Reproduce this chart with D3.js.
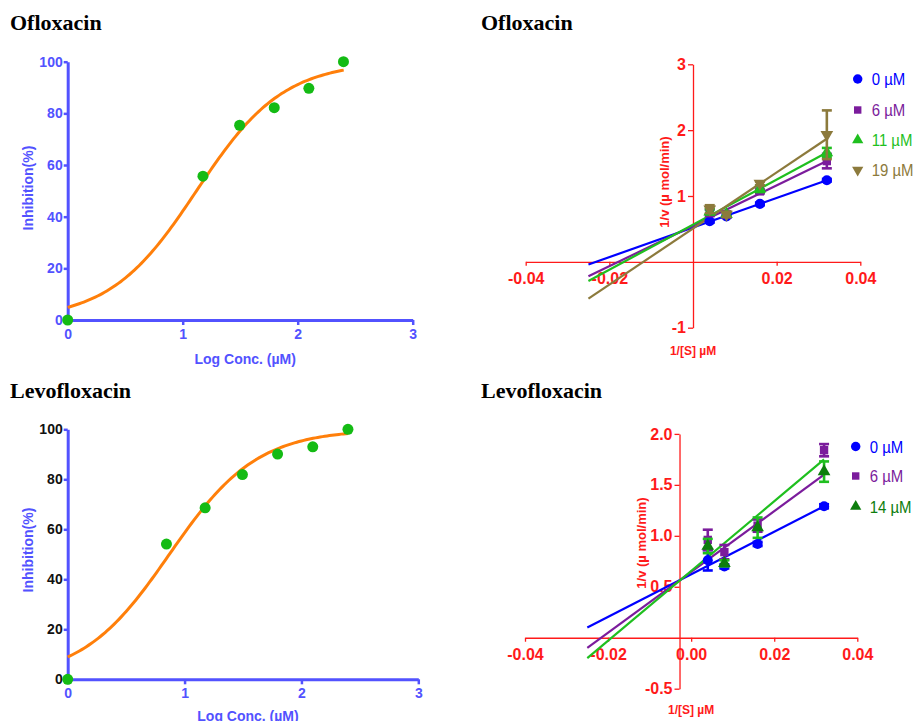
<!DOCTYPE html>
<html>
<head>
<meta charset="utf-8">
<script src="https://cdn.jsdelivr.net/npm/d3@7"></script>
<style>
  body { margin: 0; background: #fff; }
  svg { display: block; font-family: Arial, "Liberation Sans", sans-serif; }
</style>
</head>
<body>
<svg id="chart" width="917" height="721"></svg>
<script>
// ---- dose response data (log conc in µM vs % inhibition) ----
const oflLogConc = [0, 1.176, 1.495, 1.796, 2.097, 2.398];
const oflInhibition = [0, 55.7, 75.4, 82.2, 89.7, 100];
const levoLogConc = [0, 0.845, 1.176, 1.495, 1.796, 2.097, 2.398];
const levoInhibition = [0, 54.1, 68.6, 81.9, 90.1, 93.0, 100];
// fitted 4PL curves: bottom, top, logIC50, hill slope
const oflFit = [0, 100, 1.12, 1.15];
const levoFit = [0, 100, 0.87, 1.16];
const doseTicks = [0, 1, 2, 3];
const inhibTicks = [0, 20, 40, 60, 80, 100];

// ---- Lineweaver-Burk data ----
const invS = [0.004, 0.008, 0.016, 0.032];
const oflSeries = ["0 µM", "6 µM", "11 µM", "19 µM"];
const oflMeans = [
  [0.617, 0.69, 0.88, 1.24],
  [0.745, 0.72, 1.07, 1.53],
  [0.76, 0.72, 1.11, 1.66],
  [0.80, 0.72, 1.19, 1.93]
];
const oflErr = [
  [0.02, 0.02, 0.02, 0.02],
  [0.05, 0.04, 0.03, 0.11],
  [0.04, 0.03, 0.05, 0.07],
  [0.06, 0.04, 0.03, 0.37]
];
const oflSlope = [22.46, 30.7, 34.2, 42.6];
const oflIntercept = [0.521, 0.548, 0.565, 0.506];

const levoSeries = ["0 µM", "6 µM", "14 µM"];
const levoMeans = [
  [0.76, 0.70, 0.92, 1.29],
  [0.96, 0.84, 1.10, 1.84],
  [0.90, 0.73, 1.08, 1.63]
];
const levoErr = [
  [0.10, 0.02, 0.02, 0.02],
  [0.10, 0.07, 0.06, 0.06],
  [0.07, 0.03, 0.10, 0.10]
];
const levoSlope = [20.9, 29.8, 34.2];
const levoIntercept = [0.622, 0.646, 0.655];
const fitRange = [-0.025, 0.032];

const svg = d3.select("#chart");
const blueAxis = "#5252ff", red = "#ff1a1a", orange = "#ff7f0a", dotGreen = "#14bb14";

// titles
[["Ofloxacin", 10, 30], ["Ofloxacin", 481, 30], ["Levofloxacin", 10, 398], ["Levofloxacin", 481, 398]]
  .forEach(([t, x, y]) => svg.append("text")
    .attr("x", x).attr("y", y)
    .style("font-family", "'Liberation Serif', 'Times New Roman', serif")
    .style("font-weight", "bold").style("font-size", "22px")
    .text(t));

function drawDose(cfg) {
  const x = d3.scaleLinear().domain([0, 3]).range(cfg.xr);
  const y = d3.scaleLinear().domain([0, 100]).range(cfg.yr);
  const g = svg.append("g");

  const xAxis = g.append("g").attr("transform", `translate(0,${cfg.yr[0]})`)
    .call(d3.axisBottom(x).tickValues(doseTicks).tickFormat(d3.format("d")).tickSize(5).tickSizeOuter(0).tickPadding(4));
  const yAxis = g.append("g").attr("transform", `translate(${cfg.xr[0]},0)`)
    .call(d3.axisLeft(y).tickValues(inhibTicks).tickSize(4).tickSizeOuter(0).tickPadding(1));
  [xAxis, yAxis].forEach(a => {
    a.select(".domain").attr("stroke", blueAxis).attr("stroke-width", 3);
    a.selectAll(".tick line").attr("stroke", blueAxis).attr("stroke-width", 2.5);
    a.selectAll("text").style("font-size", "14px").style("font-weight", "bold")
      .attr("font-family", null);
  });
  xAxis.selectAll("text").attr("fill", blueAxis);
  yAxis.selectAll("text").attr("fill", cfg.yTickColor);

  // fitted curve
  const [bot, top, ic, hill] = cfg.fit;
  const curve = d3.range(0, 2.4001, 0.02).map(v => [v, bot + (top - bot) / (1 + Math.pow(10, (ic - v) * hill))]);
  g.append("path").datum(curve)
    .attr("fill", "none").attr("stroke", orange).attr("stroke-width", 3)
    .attr("d", d3.line().x(d => x(d[0])).y(d => y(d[1])));

  g.selectAll(".pt").data(cfg.xs.map((v, i) => [v, cfg.ys[i]])).enter()
    .append("circle").attr("class", "pt")
    .attr("cx", d => x(d[0])).attr("cy", d => y(d[1])).attr("r", 5.5)
    .attr("fill", dotGreen);

  g.append("text").attr("x", (cfg.xr[0] + cfg.xr[1]) / 2 + 5).attr("y", cfg.xLabelY)
    .attr("text-anchor", "middle").attr("fill", blueAxis)
    .style("font-size", "14px").style("font-weight", "bold").text("Log Conc. (µM)");
  g.append("text").attr("transform", `translate(33,${cfg.yLabelY}) rotate(-90)`)
    .attr("text-anchor", "middle").attr("fill", blueAxis)
    .style("font-size", "14px").style("font-weight", "bold").text("Inhibition(%)");
}

drawDose({ xr: [67.7, 412.7], yr: [320, 61.7], xs: oflLogConc, ys: oflInhibition, fit: oflFit,
  yTickColor: blueAxis, xLabelY: 364, yLabelY: 188 });
drawDose({ xr: [67.7, 418.3], yr: [679.3, 429.3], xs: levoLogConc, ys: levoInhibition, fit: levoFit,
  yTickColor: "#111", xLabelY: 721, yLabelY: 550 });

function symbolFor(i) {
  return [d3.symbolCircle, d3.symbolSquare, d3.symbolTriangle, d3.symbolTriangle][i];
}

function drawLB(cfg) {
  const x = d3.scaleLinear().domain([-0.04, 0.04]).range(cfg.xr);
  const y = d3.scaleLinear().domain(cfg.yDomain).range(cfg.yr);
  const g = svg.append("g");

  const xAxis = g.append("g").attr("transform", `translate(0,${y(0)})`)
    .call(d3.axisBottom(x).tickValues(cfg.xTicks).tickFormat(d3.format(".2f")).tickSize(4).tickSizeOuter(0).tickPadding(7));
  const yAxis = g.append("g").attr("transform", `translate(${x(cfg.yAxisAt)},0)`)
    .call(d3.axisLeft(y).tickValues(cfg.yTicks).tickFormat(cfg.yFormat).tickSize(5).tickSizeOuter(0).tickPadding(2));
  [xAxis, yAxis].forEach(a => {
    a.select(".domain").attr("stroke", red).attr("stroke-width", 1.3);
    a.selectAll(".tick line").attr("stroke", red).attr("stroke-width", 1.3);
    a.selectAll("text").attr("fill", red).attr("font-family", null)
      .style("font-size", "16px").style("font-weight", "bold");
  });
  // plain hyphen minus like the original
  xAxis.selectAll("text").text(d => d3.format(".2f")(d).replace("\u2212", "-"));
  yAxis.selectAll("text").text(d => cfg.yFormat(d).replace("\u2212", "-"));

  // fit lines
  cfg.slope.forEach((s, i) => {
    g.append("path").datum(fitRange.map(v => [v, cfg.intercept[i] + s * v]))
      .attr("fill", "none").attr("stroke", cfg.lineColors[i]).attr("stroke-width", 2.2)
      .attr("d", d3.line().x(d => x(d[0])).y(d => y(d[1])));
  });

  // error bars and markers
  cfg.means.forEach((row, i) => {
    const pts = row.map((m, j) => ({ x: invS[j], m, e: cfg.err[i][j] }));
    const eb = g.append("g").attr("stroke", cfg.lineColors[i]).attr("stroke-width", 2.6).attr("fill", "none");
    pts.forEach(p => {
      const xp = x(p.x), y1 = y(p.m + p.e), y2 = y(p.m - p.e);
      eb.append("line").attr("x1", xp).attr("x2", xp).attr("y1", y1).attr("y2", y2);
      eb.append("line").attr("x1", xp - 5).attr("x2", xp + 5).attr("y1", y1).attr("y2", y1);
      eb.append("line").attr("x1", xp - 5).attr("x2", xp + 5).attr("y1", y2).attr("y2", y2);
    });
    const sym = d3.symbol().type(symbolFor(i)).size(i === 0 ? 80 : 70);
    g.selectAll(null).data(pts).enter().append("path")
      .attr("d", sym)
      .attr("transform", d => `translate(${x(d.x)},${y(d.m)})${i === 3 ? " rotate(180)" : ""}`)
      .attr("fill", cfg.markColors[i]);
  });

  // legend
  cfg.series.forEach((name, i) => {
    const ly = cfg.legendY[i];
    g.append("path").attr("d", d3.symbol().type(symbolFor(i)).size(i === 0 ? 70 : 55))
      .attr("transform", `translate(${cfg.legendX},${ly})${i === 3 ? " rotate(180)" : ""}`)
      .attr("fill", cfg.markColors[i]);
    g.append("text").attr("transform", `translate(${cfg.legendX + 14},${ly + 6}) scale(0.88,1)`)
      .attr("fill", cfg.textColors[i]).style("font-size", "17px").text(name);
  });

  g.append("text").attr("transform", `translate(${cfg.yLabelX},${cfg.yLabelY}) rotate(-90)`)
    .attr("text-anchor", "middle").attr("fill", red)
    .style("font-size", "13px").style("font-weight", "bold").text("1/v (µ mol/min)");
  g.append("text").attr("x", x(0)).attr("y", cfg.xLabelY)
    .attr("text-anchor", "middle").attr("fill", red)
    .style("font-size", "12px").style("font-weight", "bold").text("1/[S] µM");
}

drawLB({
  xr: [525.7, 860.3], yr: [327.7, 64.3], yDomain: [-1, 3], yAxisAt: 0,
  xTicks: [-0.04, -0.02, 0.02, 0.04], yTicks: [-1, 1, 2, 3], yFormat: d3.format("d"),
  means: oflMeans, err: oflErr, slope: oflSlope, intercept: oflIntercept, series: oflSeries,
  lineColors: ["#0000ff", "#7b1c9c", "#1fbf1f", "#8c7a3c"],
  markColors: ["#0000ff", "#7b1c9c", "#1fbf1f", "#8c7a3c"],
  textColors: ["#0000ff", "#7b1c9c", "#1fbf1f", "#8c7a3c"],
  legendX: 857.7, legendY: [79, 110, 140, 170],
  yLabelX: 669, yLabelY: 182, xLabelY: 355
});
drawLB({
  xr: [525, 857.3], yr: [688.7, 433.9], yDomain: [-0.5, 2.0], yAxisAt: -0.0028,
  xTicks: [-0.04, -0.02, 0, 0.02, 0.04], yTicks: [-0.5, 0.5, 1.0, 1.5, 2.0], yFormat: d3.format(".1f"),
  means: levoMeans, err: levoErr, slope: levoSlope, intercept: levoIntercept, series: levoSeries,
  lineColors: ["#0000ff", "#7b1c9c", "#1fbf1f"],
  markColors: ["#0000ff", "#7b1c9c", "#0d7d0d"],
  textColors: ["#0000ff", "#7b1c9c", "#0d7d0d"],
  legendX: 855.7, legendY: [446.5, 476, 506.5],
  yLabelX: 646, yLabelY: 543, xLabelY: 714
});
</script>
</body>
</html>
